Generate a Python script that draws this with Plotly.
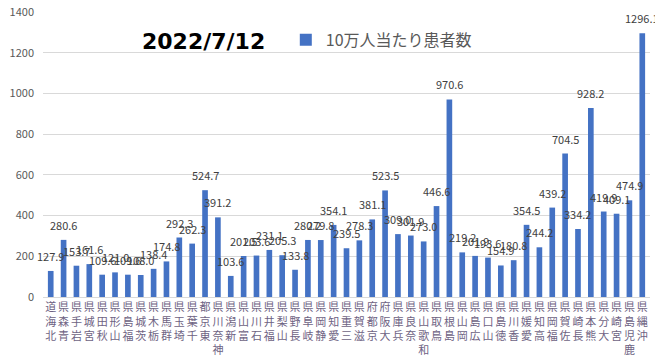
import plotly.graph_objects as go

prefectures = ["北海道", "青森県", "岩手県", "宮城県", "秋田県", "山形県", "福島県", "茨城県", "栃木県", "群馬県",
               "埼玉県", "千葉県", "東京都", "神奈川県", "新潟県", "富山県", "石川県", "福井県", "山梨県", "長野県",
               "岐阜県", "静岡県", "愛知県", "三重県", "滋賀県", "京都府", "大阪府", "兵庫県", "奈良県", "和歌山県",
               "鳥取県", "島根県", "岡山県", "広島県", "山口県", "徳島県", "香川県", "愛媛県", "高知県", "福岡県",
               "佐賀県", "長崎県", "熊本県", "大分県", "宮崎県", "鹿児島県", "沖縄県"]
values = [127.9, 280.6, 153.7, 161.6, 109.6, 121.0, 109.6, 108.0, 138.4, 174.8,
          292.3, 262.3, 524.7, 391.2, 103.6, 201.5, 203.6, 231.1, 205.3, 133.8,
          280.2, 279.8, 354.1, 239.5, 278.3, 381.1, 523.5, 309.0, 301.9, 273.0,
          446.6, 970.6, 219.2, 201.9, 193.6, 154.9, 180.8, 354.5, 244.2, 439.2,
          704.5, 334.2, 928.2, 419.9, 409.1, 474.9, 1296.1]
title_text = "2022/7/12"
series_name = "10万人当たり患者数"
y_ticks = [0, 200, 400, 600, 800, 1000, 1200, 1400]

# stacked vertical labels, read bottom to top
tick_text = ["<br>".join(reversed(list(p))) for p in prefectures]
xs = list(range(len(prefectures)))

font_jp = "Noto Sans CJK JP"

fig = go.Figure()
fig.add_trace(go.Bar(
    x=xs,
    y=values,
    name=series_name,
    marker_color="#4472C4",
    showlegend=True,
))

annotations = [dict(text="<b>" + title_text + "</b>", x=0.2636, y=0.895, xref="paper", yref="paper",
                    showarrow=False, xanchor="center", yanchor="middle",
                    font=dict(size=22, color="black", family="DejaVu Sans"))]
for xi, v in zip(xs, values):
    annotations.append(dict(x=xi, y=v, xref="x", yref="y", text=f"{v:.1f}", showarrow=False,
                            xanchor="center", yanchor="bottom", yshift=5,
                            font=dict(size=11, color="#404040", family=font_jp)))

fig.update_layout(
    template="none",
    width=655, height=348,
    margin=dict(l=35, r=13, t=4, b=59, autoexpand=False),
    paper_bgcolor="white", plot_bgcolor="white",
    bargap=0.56,
    font=dict(family=font_jp, color="#595959"),
    legend=dict(orientation="h", x=0.400, y=0.902, xanchor="left", yanchor="middle",
                font=dict(size=16, color="#595959", family=font_jp),
                bgcolor="rgba(0,0,0,0)", itemwidth=30),
    annotations=annotations,
)
fig.update_xaxes(
    automargin=False,
    tickmode="array", tickvals=xs, ticktext=tick_text,
    tickangle=0, tickfont=dict(size=11, color="#6E6383", family=font_jp),
    showline=True, linecolor="#D9D9D9", linewidth=1, ticks="", range=[-0.6, 46.6], showgrid=False,
    zeroline=False,
)
fig.update_yaxes(
    automargin=False,
    range=[0, 1400], tickvals=y_ticks, showgrid=True, gridcolor="#D9D9D9", gridwidth=1,
    tickfont=dict(size=11, color="#595959", family=font_jp), zeroline=False,
    ticks="", showline=False, ticklabelstandoff=8, ticklabeloverflow="allow",
)

fig.write_html("out.html")
